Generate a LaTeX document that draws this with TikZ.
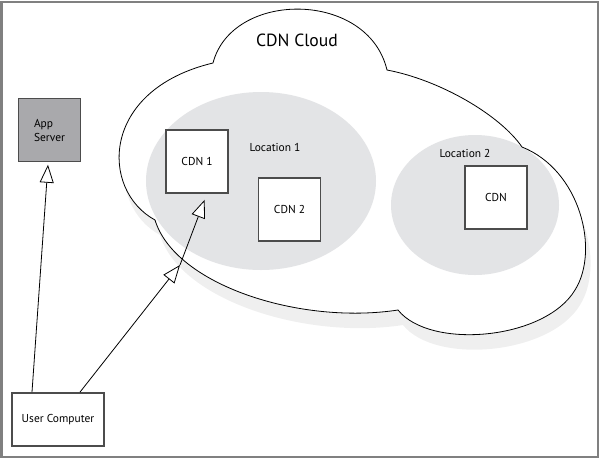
\documentclass[tikz,border=0pt]{standalone}
\usepackage{fontspec}
\setmainfont{PT Sans}
\usepackage{xcolor}
\usetikzlibrary{arrows.meta, positioning}

\definecolor{framegray}{HTML}{808080}
\definecolor{boxgray}{HTML}{A9A9AC}
\definecolor{locgray}{HTML}{E3E4E6}
\definecolor{shadowgray}{HTML}{EFEFEF}

% outline of the cloud, in pixel units
\newcommand{\cloudpath}{(213,63) .. controls (232,-10) and (368,-10) .. (387,70)
  .. controls (440,80) and (500,115) .. (522,147)
  .. controls (580,170) and (600,250) .. (575,290)
  .. controls (545,340) and (430,350) .. (398,310)
  .. controls (300,325) and (175,285) .. (155,220)
  .. controls (100,190) and (100,90) .. (213,63) -- cycle}

\begin{document}
\begin{tikzpicture}[
    x=0.75pt, y=-0.75pt,
    font=\fontsize{8.6pt}{10.5pt}\selectfont,
    server/.style={rectangle, draw=black!70, line width=1.1pt, fill=white, minimum width=46.5pt, minimum height=47pt, text centered, inner sep=2pt},
    location/.style={fill=locgray},
    arrow/.style={-{Triangle[fill=white, length=13.5pt, width=10.5pt]}, semithick}
]
\useasboundingbox (0,0) rectangle (599,458);
\draw[framegray, line width=1.5pt] (1.5,1.5) rectangle (597.5,456.5);

% Cloud with shadow
\fill[shadowgray, shift={(5,15)}] \cloudpath;
\fill[white] \cloudpath;
\begin{scope}
  \clip \cloudpath;
  \fill[location] (261,181) ellipse [x radius=115, y radius=89];
  \fill[location] (475,205) ellipse [x radius=84, y radius=70];
\end{scope}
\draw[black, line width=0.6pt] \cloudpath;

\node[font=\fontsize{13.2pt}{15pt}\selectfont] (cloud) at (297,40) {CDN Cloud};
\node (loc1) at (275,147) {Location 1};
\node (loc2) at (465,153) {Location 2};

% Servers
\node[server] (cdn1) at (197,161.5) {CDN 1};
\node[server] (cdn2) at (289.5,209.5) {CDN 2};
\node[server] (cdn3) at (496,197.5) {CDN};
\node[server, fill=boxgray, align=left] (app) at (49.5,130) {App\\Server};
\node[server, minimum width=69pt, minimum height=40pt] (user) at (58,419.5) {User Computer};

% Connections
\coordinate (edge) at (180,265);
\draw[arrow, shorten >=2pt] ([xshift=-19.5pt]user.north) -- ([xshift=-1pt]app.south);
\draw[arrow] ([xshift=16.5pt]user.north) -- (edge);
\draw[arrow, shorten >=5pt] (edge) -- ([xshift=7.5pt]cdn1.south);

\end{tikzpicture}
\end{document}
